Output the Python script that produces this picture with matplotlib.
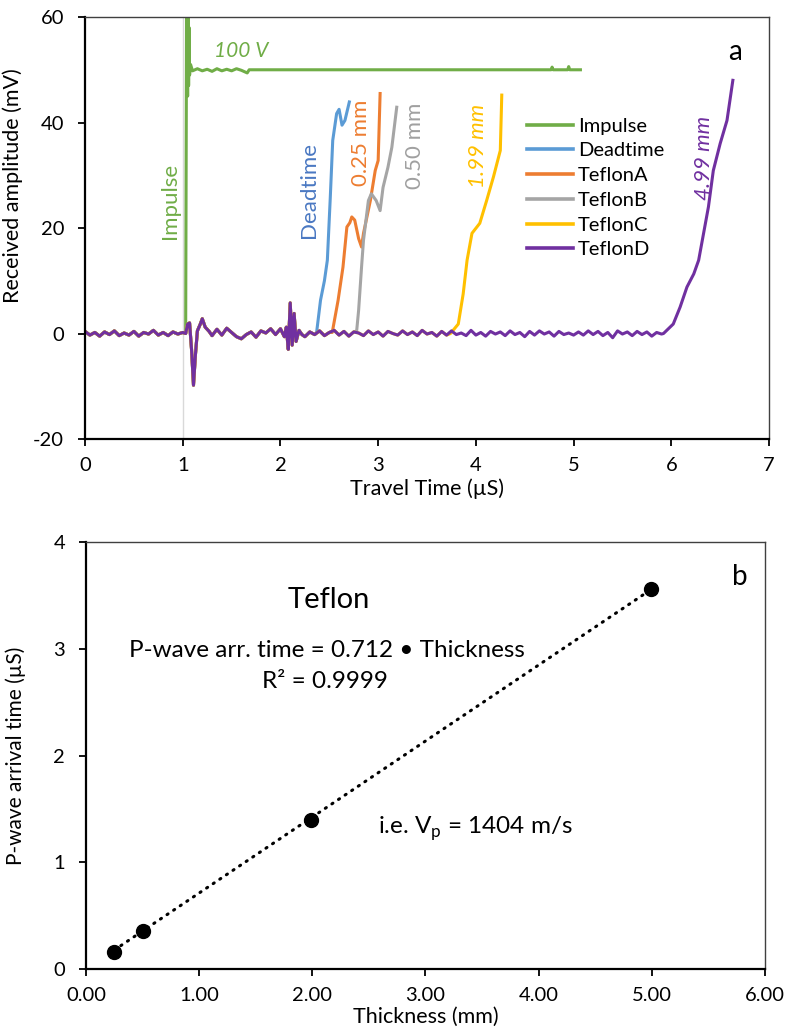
import numpy as np
import matplotlib
matplotlib.use("Agg")
import matplotlib.pyplot as plt

plt.rcParams['font.family'] = ['Lato', 'DejaVu Sans']
plt.rcParams['axes.unicode_minus'] = False

# ---- panel a : shared noisy baseline ----
base_t_a = [0.00, 0.05, 0.10, 0.15, 0.20, 0.25, 0.30, 0.35, 0.40, 0.45,
            0.50, 0.55, 0.60, 0.65, 0.70, 0.75, 0.80, 0.85, 0.90, 0.95, 1.00]
base_v_a = [0.4, -0.3, 0.2, -0.5, 0.3, -0.2, 0.5, -0.4, 0.1, -0.3,
            0.4, -0.5, 0.2, -0.1, 0.6, -0.3, 0.2, -0.4, 0.3, -0.1, 0.2]
base_t_b = [1.03, 1.05, 1.07, 1.09, 1.11, 1.13, 1.15, 1.18, 1.20, 1.23,
            1.27, 1.30, 1.35, 1.40, 1.45, 1.50, 1.55, 1.60, 1.65, 1.70,
            1.75, 1.80, 1.85, 1.90, 1.95, 2.00, 2.04, 2.06, 2.08, 2.10,
            2.12, 2.14, 2.16, 2.19, 2.22, 2.25]
base_v_b = [0.0, 1.8, 2.0, -3.0, -9.8, -4.0, 0.5, 1.8, 2.8, 1.2,
            0.4, -0.4, 0.8, -0.3, 1.0, 0.2, -0.6, -1.0, -0.2, 0.3,
            -0.7, 0.5, 0.1, 0.9, -0.2, 0.9, -0.6, 1.2, -3.0, 5.8,
            -2.2, 3.8, -1.5, 0.6, -0.2, -0.6]
base_t_c = list(np.round(np.arange(2.30, 6.001, 0.05), 2))
base_v_c = [0.3, -0.2, 0.5, -0.4, 0.2, 0.6, -0.3, 0.4, -0.5, 0.3,
            0.1, -0.4, 0.5, -0.2, 0.3, -0.5, 0.4, 0.0, -0.3, 0.5,
            -0.2, 0.3, -0.4, 0.6, -0.1, 0.2, -0.5, 0.4, -0.3, 0.5,
            -0.2, 0.1, -0.4, 0.6, -0.3, 0.2, -0.5, 0.4, -0.1, 0.3,
            -0.4, 0.5, -0.2, 0.2, -0.6, 0.4, -0.3, 0.5, -0.1, 0.3,
            -0.5, 0.4, -0.2, 0.1, -0.3, 0.3, -0.3, 0.5, -0.2, 0.4,
            -0.4, 0.2, -0.8, 0.5, -0.1, 0.3, -0.4, 0.4, -0.2, 0.3,
            -0.5, 0.2, -0.1, 0.3, 0.0]
base_t = base_t_a + base_t_b + base_t_c
base_v = base_v_a + base_v_b + base_v_c

# rising parts of each trace
impulse_t = [1.03, 1.04, 1.05, 1.055, 1.06, 1.065, 1.07, 1.08, 1.10, 1.15,
             1.20, 1.25, 1.30, 1.35, 1.40, 1.45, 1.50, 1.55, 1.60, 1.66,
             1.68, 4.77, 4.78, 4.79, 4.94, 4.95, 4.96, 5.07]
impulse_v = [0.0, 66.0, 45.0, 62.0, 47.0, 58.0, 49.0, 51.0, 49.8, 50.2,
             49.8, 50.1, 49.7, 50.2, 49.8, 50.1, 49.8, 50.2, 49.9, 49.4,
             50.0, 50.0, 50.5, 50.0, 50.0, 50.6, 50.0, 50.0]
dead_t = [2.37, 2.41, 2.45, 2.48, 2.51, 2.535, 2.575, 2.60, 2.63, 2.66, 2.705]
dead_v = [0.2, 6.3, 10.0, 13.9, 25.8, 36.6, 41.7, 42.5, 39.5, 40.4, 43.9]
tefA_t = [2.53, 2.59, 2.64, 2.68, 2.71, 2.73, 2.76, 2.80, 2.83, 2.85, 2.92, 2.97, 3.00, 3.02]
tefA_v = [0.2, 6.3, 12.6, 20.2, 21.0, 22.1, 21.5, 18.0, 16.4, 19.0, 25.2, 30.9, 32.8, 45.5]
tefB_t = [2.78, 2.80, 2.83, 2.85, 2.90, 2.93, 2.98, 3.02, 3.05, 3.10, 3.14, 3.19]
tefB_v = [0.5, 4.4, 12.6, 17.7, 25.2, 26.5, 25.2, 23.3, 27.7, 31.5, 35.3, 42.9]
tefC_t = [3.74, 3.82, 3.87, 3.91, 3.96, 4.04, 4.11, 4.18, 4.25, 4.265]
tefC_v = [0.0, 1.8, 7.5, 13.9, 19.0, 20.9, 25.2, 29.7, 34.7, 45.2]
tefD_t = [5.92, 6.02, 6.09, 6.16, 6.23, 6.28, 6.33, 6.38, 6.43, 6.50, 6.57, 6.63]
tefD_v = [0.0, 1.8, 5.0, 8.8, 11.3, 13.9, 18.9, 24.0, 30.9, 36.0, 40.4, 48.0]

names = ["Impulse", "Deadtime", "TeflonA", "TeflonB", "TeflonC", "TeflonD"]
colors = ["#70AD47", "#5B9BD5", "#ED7D31", "#A5A5A5", "#FFC000", "#7030A0"]
rises = [(impulse_t, impulse_v), (dead_t, dead_v), (tefA_t, tefA_v),
         (tefB_t, tefB_v), (tefC_t, tefC_v), (tefD_t, tefD_v)]

# ---- panel b ----
thickness = [0.25, 0.50, 1.99, 4.99]
arrival = [0.16, 0.36, 1.40, 3.56]

fig = plt.figure(figsize=(7.88, 10.32), dpi=100)
ax1 = fig.add_axes([0.1079, 0.5746, 0.8680, 0.4089])
ax2 = fig.add_axes([0.1091, 0.0610, 0.8617, 0.4138])

# panel a
ax1.axvline(1.0, color="#d9d9d9", lw=1.0, zorder=1)
for name, col, (rt, rv) in zip(names, colors, rises):
    t = [x for x in base_t if x < rt[0]] + rt
    v = [base_v[i] for i, x in enumerate(base_t) if x < rt[0]] + rv
    ax1.plot(t, v, color=col, lw=2.2, label=name, zorder=2)

ax1.set_xlim(0, 7)
ax1.set_ylim(-20, 60)
ax1.set_xticks(range(0, 8))
ax1.set_yticks([-20, 0, 20, 40, 60])
ax1.set_xlabel("Travel Time (µS)", fontsize=15.5, labelpad=3)
ax1.set_ylabel("Received amplitude (mV)", fontsize=15.5)
ax1.yaxis.set_label_coords(-0.09, 0.60)

leg = ax1.legend(loc="upper left", bbox_to_anchor=(0.646, 0.762), frameon=False,
                 fontsize=14.5, handlelength=2.3, handletextpad=0.25,
                 labelspacing=0.38, borderpad=0, borderaxespad=0)
for h in leg.get_lines():
    h.set_linewidth(2.6)

ax1.text(1.60, 53.5, "100 V", color="#70AD47", fontsize=15, style="italic",
         ha="center", va="center")
ax1.text(0.87, 25.2, "Impulse", color="#70AD47", fontsize=16, rotation=90,
         ha="center", va="center")
ax1.text(2.293, 27.3, "Deadtime", color="#4a78c2", fontsize=16, rotation=90,
         ha="center", va="center")
ax1.text(2.825, 36.2, "0.25 mm", color="#ED7D31", fontsize=16, rotation=90,
         ha="center", va="center")
ax1.text(3.377, 35.5, "0.50 mm", color="#A0A0A0", fontsize=16, rotation=90,
         ha="center", va="center")
ax1.text(4.022, 35.5, "1.99 mm", color="#FFC000", fontsize=16, rotation=90,
         style="italic", ha="center", va="center")
ax1.text(6.335, 33.2, "4.99 mm", color="#7030A0", fontsize=16, rotation=90,
         style="italic", ha="center", va="center")
ax1.text(0.950, 0.917, "a", transform=ax1.transAxes, fontsize=20,
         ha="center", va="center")

# panel b
slope = np.sum(np.array(thickness) * np.array(arrival)) / np.sum(np.array(thickness) ** 2)
fit_x = np.array([min(thickness), max(thickness)])
ax2.plot(fit_x, slope * fit_x, color="black", lw=2.2, linestyle=(0, (0.4, 2.2)),
         dash_capstyle="round", zorder=2)
ax2.plot(thickness, arrival, "o", color="black", ms=10, zorder=3)

ax2.set_xlim(0, 6)
ax2.set_ylim(0, 4)
ax2.set_xticks(np.arange(0, 7))
ax2.set_xticklabels(["%.2f" % v for v in np.arange(0, 7)])
ax2.set_yticks(range(0, 5))
ax2.set_xlabel("Thickness (mm)", fontsize=15.5, labelpad=2)
ax2.set_ylabel("P-wave arrival time (µS)", fontsize=15)
ax2.yaxis.set_label_coords(-0.088, 0.5)

ax2.text(2.147, 3.382, "Teflon", fontsize=21, ha="center", va="baseline")
ax2.text(2.13, 2.923, "P-wave arr. time = %.3f • Thickness" % slope, fontsize=17.5,
         ha="center", va="baseline")
ax2.text(2.11, 2.632, "R² = 0.9999", fontsize=17.5, ha="center", va="baseline")
ax2.text(3.437, 1.265, r"i.e. V$_\mathregular{p}$ = 1404 m/s", fontsize=17.5,
         ha="center", va="baseline")
ax2.text(0.963, 0.918, "b", transform=ax2.transAxes, fontsize=20,
         ha="center", va="center")

for ax in (ax1, ax2):
    for s in ("left", "bottom"):
        ax.spines[s].set_linewidth(1.6)
        ax.spines[s].set_color("black")
    for s in ("top", "right"):
        ax.spines[s].set_linewidth(1.0)
        ax.spines[s].set_color("#404040")
    ax.tick_params(axis="both", direction="out", length=5, width=1.3,
                   labelsize=14.5, top=False, right=False)
    ax.tick_params(axis="y", pad=10)
    ax.tick_params(axis="x", pad=8)

fig.savefig("out.png", dpi=100)
